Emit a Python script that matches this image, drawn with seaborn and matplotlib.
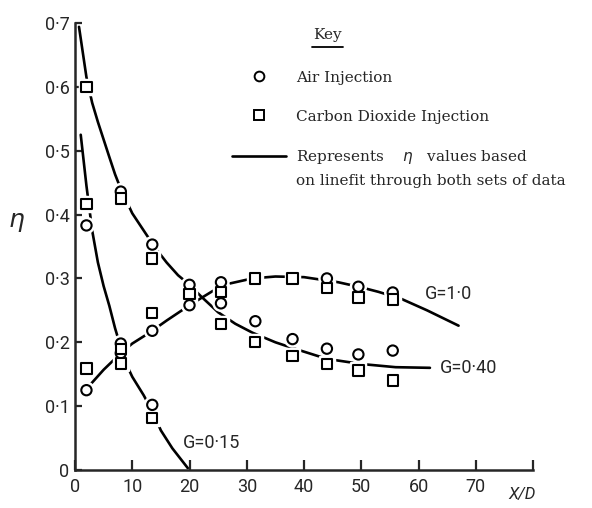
import numpy as np
import pandas as pd
import matplotlib
matplotlib.use("Agg")
import matplotlib.pyplot as plt
from matplotlib.lines import Line2D
from matplotlib.text import Annotation
import seaborn as sns

# ---------------- data ----------------
# measured points, X/D stations
air_x_015 = [2, 8, 13.5]
air_y_015 = [0.383, 0.198, 0.102]
co2_x_015 = [2, 8, 13.5]
co2_y_015 = [0.417, 0.190, 0.081]

air_x_040 = [8, 13.5, 20, 25.5, 31.5, 38, 44, 49.5, 55.5]
air_y_040 = [0.436, 0.353, 0.290, 0.261, 0.233, 0.205, 0.190, 0.181, 0.187]
co2_x_040 = [2, 8, 13.5, 20, 25.5, 31.5, 38, 44, 49.5, 55.5]
co2_y_040 = [0.600, 0.425, 0.331, 0.276, 0.229, 0.200, 0.178, 0.166, 0.156, 0.140]

air_x_100 = [2, 8, 13.5, 20, 25.5, 44, 49.5, 55.5]
air_y_100 = [0.125, 0.183, 0.218, 0.258, 0.294, 0.300, 0.287, 0.278]
co2_x_100 = [2, 8, 13.5, 25.5, 31.5, 38, 44, 49.5, 55.5]
co2_y_100 = [0.159, 0.167, 0.246, 0.279, 0.300, 0.300, 0.285, 0.270, 0.267]

# line fits, points
fit_x_015 = [1, 2, 3, 4, 5, 6, 7, 8, 9, 10, 12, 13.5, 15, 17, 19.7]
fit_y_015 = [0.525, 0.445, 0.375, 0.325, 0.288, 0.257, 0.222, 0.192, 0.165, 0.146, 0.117, 0.092, 0.062, 0.034, 0.003]

fit_x_040 = [0.7, 2, 3, 4, 6, 7, 8, 10, 12, 14, 16, 18, 20, 22, 25, 28, 31, 35, 38, 44, 50, 56, 62]
fit_y_040 = [0.694, 0.615, 0.575, 0.545, 0.490, 0.463, 0.440, 0.402, 0.375, 0.348, 0.325, 0.305, 0.290, 0.272, 0.247, 0.229, 0.215, 0.200, 0.191, 0.174, 0.166, 0.161, 0.160]

fit_x_100 = [2.3, 5, 8, 10, 13, 16, 20, 24, 27, 31, 35, 40, 46, 50, 53, 57, 61.5, 67]
fit_y_100 = [0.130, 0.157, 0.183, 0.198, 0.215, 0.234, 0.258, 0.280, 0.292, 0.300, 0.303, 0.302, 0.294, 0.286, 0.279, 0.268, 0.250, 0.226]

x_ticks = [0, 10, 20, 30, 40, 50, 60, 70, 80]
x_tick_labels = ["0", "10", "20", "30", "40", "50", "60", "70", ""]
y_ticks = [0, 0.1, 0.2, 0.3, 0.4, 0.5, 0.6, 0.7]
y_tick_labels = ["0", "0·1", "0·2", "0·3", "0·4", "0·5", "0·6", "0·7"]

# ---------------- tables ----------------
pts = []
for name, xs, ys in [("Air Injection", air_x_015, air_y_015),
                     ("Air Injection", air_x_040, air_y_040),
                     ("Air Injection", air_x_100, air_y_100),
                     ("Carbon Dioxide Injection", co2_x_015, co2_y_015),
                     ("Carbon Dioxide Injection", co2_x_040, co2_y_040),
                     ("Carbon Dioxide Injection", co2_x_100, co2_y_100)]:
    for x, y in zip(xs, ys):
        pts.append({"x": x, "y": y, "gas": name})
pts = pd.DataFrame(pts)

fits = []
for g, xs, ys in [("0.15", fit_x_015, fit_y_015),
                  ("0.40", fit_x_040, fit_y_040),
                  ("1.0", fit_x_100, fit_y_100)]:
    for x, y in zip(xs, ys):
        fits.append({"x": x, "y": y, "G": g})
fits = pd.DataFrame(fits)

# ---------------- figure ----------------
sns.set_style("ticks")
plt.rcParams["font.family"] = ["Roboto", "DejaVu Sans"]

fig = plt.figure(figsize=(5.92, 5.08), dpi=100)
ax = fig.add_axes([75 / 592, 38 / 508, 458 / 592, 447 / 508])

sns.lineplot(data=fits, x="x", y="y", units="G", estimator=None, sort=False,
             color="black", lw=1.9, ax=ax, zorder=2, legend=False)

markers = {"Air Injection": "o", "Carbon Dioxide Injection": "s"}
# white halo giving the small gaps of the hand-drawn curves around each symbol
sns.scatterplot(data=pts, x="x", y="y", style="gas", markers=markers, s=100,
                color="white", edgecolor="white", linewidth=2.5, ax=ax,
                zorder=3, legend=False)
sns.scatterplot(data=pts, x="x", y="y", style="gas", markers=markers, s=55,
                facecolor="white", edgecolor="black", linewidth=1.5, ax=ax,
                zorder=4, legend=False)

ax.set_xlim(0, 80)
ax.set_ylim(0, 0.7)
ax.set_xticks(x_ticks)
ax.set_xticklabels(x_tick_labels)
ax.set_yticks(y_ticks)
ax.set_yticklabels(y_tick_labels)
ax.tick_params(axis="x", direction="in", length=7, width=1.6, pad=6, labelsize=13)
ax.tick_params(axis="y", direction="in", length=5, width=1.6, pad=4, labelsize=13)
sns.despine(ax=ax)
for s in ("left", "bottom"):
    ax.spines[s].set_linewidth(1.8)

ax.set_xlabel("")
ax.set_ylabel(r"$\eta$", rotation=0, fontsize=18, ha="center", va="center")
ax.yaxis.set_label_coords(-0.127, 0.555)
ax.text(78, -0.027, "X/D", fontsize=12, fontstyle="italic", ha="center", va="top")

# curve labels
lab_kw = dict(fontsize=13, ha="left", va="center")
ax.text(61.2, 0.276, "G=1·0", **lab_kw)
ax.text(63.8, 0.160, "G=0·40", **lab_kw)
ax.text(18.8, 0.042, "G=0·15", **lab_kw)

# key
serif = ["DejaVu Serif"]
handles = [Line2D([], [], ls="none", marker="o", ms=7, mfc="white", mec="black", mew=1.4),
           Line2D([], [], ls="none", marker="s", ms=6.5, mfc="white", mec="black", mew=1.4),
           Line2D([], [], color="black", lw=1.9)]
labels = ["Air Injection", "Carbon Dioxide Injection",
          r"Represents    $\eta$   values based"]
leg = ax.legend(handles, labels, loc="upper left", bbox_to_anchor=(0.343, 0.893),
                frameon=False, borderaxespad=0, borderpad=0, handlelength=3.5,
                handletextpad=0.7, labelspacing=1.62,
                prop={"family": serif, "size": 11})
second = Annotation("on linefit through both sets of data", xy=(0, 0),
                    xycoords=leg.get_texts()[2], xytext=(0, -13.5),
                    textcoords="offset points", ha="left", va="baseline",
                    family=serif, fontsize=11)
fig.add_artist(second)
ax.text(0.551, 0.973, "Key", transform=ax.transAxes, ha="center", va="center",
        family=serif, fontsize=11)
ax.add_line(Line2D([0.517, 0.585], [0.946, 0.946], transform=ax.transAxes,
                   color="black", lw=1.3, clip_on=False))

fig.savefig("out.png", dpi=100)
